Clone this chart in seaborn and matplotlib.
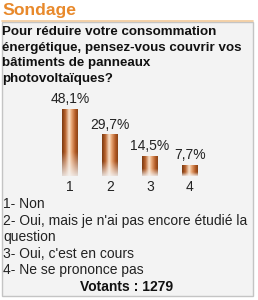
import numpy as np
import pandas as pd
import matplotlib
matplotlib.use("Agg")
import matplotlib.pyplot as plt
from matplotlib.colors import LinearSegmentedColormap, to_rgb
from matplotlib.patches import Rectangle
import seaborn as sns

answers = ["1", "2", "3", "4"]
shares = [48.1, 29.7, 14.5, 7.7]
share_labels = ["48,1%", "29,7%", "14,5%", "7,7%"]
legend_lines = ["1- Non",
                "2- Oui, mais je n'ai pas encore étudié la",
                "question",
                "3- Oui, c'est en cours",
                "4- Ne se prononce pas"]
question_lines = ["Pour réduire votre consommation",
                  "énergétique, pensez-vous couvrir vos",
                  "bâtiments de panneaux",
                  "photovoltaïques?"]
voters = 1279

sns.set_theme(style="white")
plt.rcParams["font.family"] = ["Liberation Sans", "DejaVu Sans"]

W, H = 258, 300
fig = plt.figure(figsize=(W / 100, H / 100), dpi=100)
fig.patch.set_facecolor("white")

# background layer in pixel coordinates
bg = fig.add_axes([0, 0, 1, 1])
bg.set_xlim(0, W)
bg.set_ylim(H, 0)
bg.axis("off")
BOX = "#f3f3f3"
bg.add_patch(Rectangle((2, 22), 251, 274, facecolor=BOX, edgecolor="#c4c4c4", lw=1))
bg.plot([2, 253], [21, 21], color="#f2c99a", lw=1.2)
bg.text(2, 15, "Sondage", color="#e8892b", fontsize=12.6, fontweight="bold", va="baseline")

for i, line in enumerate(question_lines):
    bg.text(2, 35 + i * 15.6, line, fontsize=9.6, fontweight="bold", color="#111111", va="baseline")

for i, line in enumerate(legend_lines):
    bg.text(3, 208 + i * 16.6, line, fontsize=10, color="#222222", va="baseline")
bg.text(127, 291, f"Votants : {voters}", fontsize=10, fontweight="bold",
        color="#111111", ha="center", va="baseline")

# bar chart
df = pd.DataFrame({"answer": answers, "share": shares})
ax = fig.add_axes([50 / W, 124 / H, 160 / W, 90 / H])
sns.barplot(data=df, x="answer", y="share", ax=ax, width=0.4,
            color="#c0703a", edgecolor="none")
ax.set_xlim(-0.5, 3.5)
ax.set_ylim(0, 90 / 1.4)
ax.patch.set_alpha(0)
sns.despine(ax=ax, left=True, bottom=True)
ax.set_yticks([])
ax.set_xlabel("")
ax.set_ylabel("")
ax.tick_params(axis="x", length=0, pad=3, labelsize=10, labelcolor="#222222")
ax.bar_label(ax.containers[0], labels=share_labels, padding=2, fontsize=10, color="#222222")

# copper cylinder gradient
copper = LinearSegmentedColormap.from_list("copper_bar", [
    (0.0, "#7a3a12"), (0.2, "#b8622c"), (0.45, "#f8e2cc"),
    (0.6, "#e9a877"), (0.85, "#b25a24"), (1.0, "#8a4418")])
nx, ny = 40, 60
row = copper(np.linspace(0, 1, nx))[:, :3]
fade = np.clip((np.linspace(0, 1, ny) - 0.65) / 0.35, 0, 1)[:, None, None]
img = row[None, :, :] * (1 - fade * 0.85) + np.array(to_rgb(BOX))[None, None, :] * fade * 0.85
for bar in ax.patches:
    x0, w, h = bar.get_x(), bar.get_width(), bar.get_height()
    im = ax.imshow(img, extent=[x0, x0 + w, 0, h], origin="upper",
                   aspect="auto", interpolation="bilinear", zorder=bar.get_zorder() + 0.1)
    im.set_clip_path(bar)
ax.set_xlim(-0.5, 3.5)
ax.set_ylim(0, 90 / 1.4)

fig.savefig("out.png", dpi=100)
